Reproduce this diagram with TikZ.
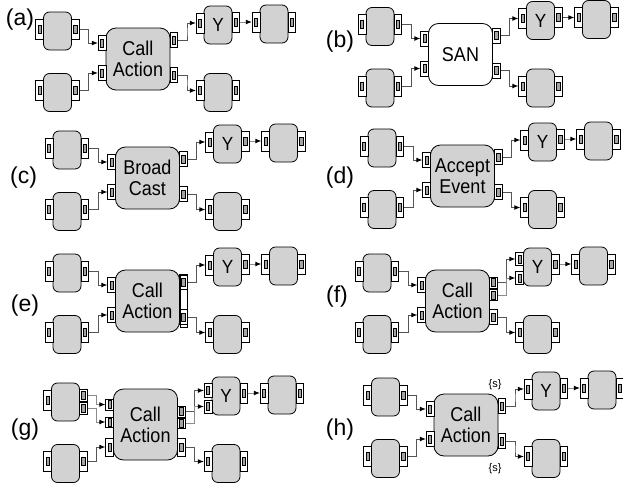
\documentclass[tikz,border=0pt]{standalone}
\usepackage{fontspec}
\setmainfont{Liberation Sans}
\newfontfamily\boxfont[FakeStretch=0.9]{Liberation Sans}
\usetikzlibrary{positioning, calc, arrows.meta}
\definecolor{boxgray}{RGB}{210,210,210}
\definecolor{portgray}{RGB}{165,165,165}
\definecolor{wiregray}{RGB}{85,85,85}
\definecolor{wirelight}{RGB}{140,140,140}

\tikzset{
  actbox/.style={draw, fill=boxgray, rounded corners=3pt, minimum width=14pt, minimum height=19pt,
    inner sep=0pt, font=\boxfont\fontsize{9.5}{9.5}\selectfont},
  bigbox/.style={actbox, rounded corners=5pt, minimum width=32pt, minimum height=31pt,
    align=center, font=\boxfont\fontsize{10}{10.5}\selectfont},
  portbox/.style={draw, fill=white, minimum width=3.8pt, minimum height=10pt, inner sep=0pt,
    path picture={\draw[fill=portgray] ([xshift=-0.8pt,yshift=-2pt]path picture bounding box.center)
      rectangle ([xshift=0.8pt,yshift=2pt]path picture bounding box.center);}},
  smallport/.style={portbox, minimum height=7.5pt},
  wire/.style={draw=wiregray, line width=0.45pt, -{Latex[length=3pt,width=2.4pt,color=black]}},
  elbow/.style={to path={-| ($(\tikztostart)!.5!(\tikztotarget)$) |- (\tikztotarget)}},
  panellabel/.style={font=\fontsize{11.5}{11.5}\selectfont}
}

\begin{document}
\begin{tikzpicture}[x=0.5pt, y=-0.5pt]
  \useasboundingbox (0,0) rectangle (623,488);

  % parts shared by all eight panels
  \foreach \p/\dx/\dy/\lx/\ly in {a/0/0/20/20, b/322.5/-4.5/340/42, c/9.5/119/23.5/178,
      d/324.5/117/340/178, e/9.5/242/25/306, f/319.5/242/337/297, g/8/371/25/430, h/328/366/340/430} {
    \node[panellabel] (lab-\p) at (\lx,\ly) {(\p)};
    \begin{scope}[shift={(\dx,\dy)}]
      \node[actbox] (in1-\p) at (57.5,31) {};
      \node[actbox] (in2-\p) at (57.5,92.5) {};
      \node[actbox] (Y-\p) at (218,25) {Y};
      \node[actbox] (far-\p) at (274,24) {};
      \node[actbox] (out2-\p) at (218,92.5) {};
    \end{scope}
    \node[portbox] (in1l-\p) at ([xshift=-1.75pt,yshift=1pt]in1-\p.west) {};
    \node[portbox] (in2l-\p) at ([xshift=-1.75pt,yshift=1pt]in2-\p.west) {};
    \node[portbox] (in2r-\p) at ([xshift=1.75pt,yshift=1pt]in2-\p.east) {};
    \node[portbox] (Yr-\p) at ([xshift=1.75pt,yshift=1.5pt]Y-\p.east) {};
    \node[portbox] (farl-\p) at ([xshift=-1.75pt,yshift=1pt]far-\p.west) {};
    \node[portbox] (farr-\p) at ([xshift=1.75pt,yshift=1pt]far-\p.east) {};
    \node[portbox] (out2l-\p) at ([xshift=-1.75pt,yshift=1pt]out2-\p.west) {};
    \node[portbox] (out2r-\p) at ([xshift=1.75pt,yshift=1pt]out2-\p.east) {};
    \draw[wire] (Yr-\p.east) to[elbow] (farl-\p.west);
  }

  % panels with one pin on each side
  \foreach \p/\dx/\dy/\txt/\cf in {a/0/0/{Call\\Action}/boxgray, b/322.5/-4.5/SAN/white,
      c/9.5/119/{Broad\\Cast}/boxgray, d/324.5/117/{Accept\\Event}/boxgray,
      e/9.5/242/{Call\\Action}/boxgray, h/328/366/{Call\\Action}/boxgray} {
    \begin{scope}[shift={(\dx,\dy)}]
      \node[bigbox, fill=\cf] (C-\p) at (138,59) {\txt};
    \end{scope}
    \node[smallport] (Cl1-\p) at ([xshift=-1.75pt,yshift=8pt]C-\p.west) {};
    \node[smallport] (Cl2-\p) at ([xshift=-1.75pt,yshift=-7pt]C-\p.west) {};
    \node[smallport] (Cr1-\p) at ([xshift=1.75pt,yshift=9.5pt]C-\p.east) {};
    \node[smallport] (Cr2-\p) at ([xshift=1.75pt,yshift=-8pt]C-\p.east) {};
    \node[portbox] (in1r-\p) at ([xshift=1.75pt,yshift=1pt]in1-\p.east) {};
    \node[portbox] (Yl-\p) at ([xshift=-1.75pt,yshift=1pt]Y-\p.west) {};
    \draw[wire] (in1r-\p.east) to[elbow] (Cl1-\p.west);
    \draw[wire] (in2r-\p.east) to[elbow] (Cl2-\p.west);
    \draw[wire] (Cr1-\p.east) to[elbow] (Yl-\p.west);
    \draw[wire] (Cr2-\p.east) to[elbow] (out2l-\p.west);
  }

  % (e) pin set
  \draw ([xshift=0.25pt,yshift=13pt]C-e.east) rectangle ([xshift=3.85pt,yshift=-13pt]C-e.east);

  % (f)
  \begin{scope}[shift={(319.5,242)}]
    \node[bigbox] (C-f) at (138,59) {Call\\Action};
  \end{scope}
  \node[smallport] (Cl1-f) at ([xshift=-1.75pt,yshift=8pt]C-f.west) {};
  \node[smallport] (Cl2-f) at ([xshift=-1.75pt,yshift=-7pt]C-f.west) {};
  \node[smallport, minimum height=5.5pt] (Cr1-f) at ([xshift=1.75pt,yshift=9.25pt]C-f.east) {};
  \node[smallport, minimum height=5.5pt] (Cr2-f) at ([xshift=1.75pt,yshift=3pt]C-f.east) {};
  \node[smallport] (Cr3-f) at ([xshift=1.75pt,yshift=-8pt]C-f.east) {};
  \node[portbox] (in1r-f) at ([xshift=1.75pt,yshift=1pt]in1-f.east) {};
  \node[portbox, minimum height=6.5pt] (Yl1-f) at ([xshift=-1.75pt,yshift=4pt]Y-f.west) {};
  \node[portbox, minimum height=6.5pt] (Yl2-f) at ([xshift=-1.75pt,yshift=-5.5pt]Y-f.west) {};
  \draw[wire] (in1r-f.east) to[elbow] (Cl1-f.west);
  \draw[wire] (in2r-f.east) to[elbow] (Cl2-f.west);
  \draw[wire] (Cr1-f.east) to[elbow] (Yl1-f.west);
  \draw[wire, draw=wirelight] (Cr2-f.east) to[elbow] (Yl2-f.west);
  \draw[wire] (Cr3-f.east) to[elbow] (out2l-f.west);

  % (g)
  \begin{scope}[shift={(8,371)}]
    \node[bigbox, minimum height=35.5pt] (C-g) at (137.5,53.5) {Call\\Action};
  \end{scope}
  \node[smallport, minimum height=5.5pt] (Cl1-g) at ([xshift=-1.75pt,yshift=10pt]C-g.west) {};
  \node[smallport, minimum height=5pt] (Cl2-g) at ([xshift=-1.75pt,yshift=1.25pt]C-g.west) {};
  \node[smallport, minimum height=9pt] (Cl3-g) at ([xshift=-1.75pt,yshift=-11.25pt]C-g.west) {};
  \node[smallport, minimum height=5.5pt] (Cr1-g) at ([xshift=1.75pt,yshift=6.5pt]C-g.east) {};
  \node[smallport, minimum height=5pt] (Cr2-g) at ([xshift=1.75pt,yshift=0.75pt]C-g.east) {};
  \node[smallport, minimum height=9pt] (Cr3-g) at ([xshift=1.75pt,yshift=-11.25pt]C-g.east) {};
  \node[portbox, minimum height=6pt] (in1r1-g) at ([xshift=1.75pt,yshift=3.25pt]in1-g.east) {};
  \node[portbox, minimum height=6pt] (in1r2-g) at ([xshift=1.75pt,yshift=-3pt]in1-g.east) {};
  \node[portbox, minimum height=7pt] (Yl1-g) at ([xshift=-1.75pt,yshift=2.75pt]Y-g.west) {};
  \node[portbox, minimum height=6.5pt] (Yl2-g) at ([xshift=-1.75pt,yshift=-5.25pt]Y-g.west) {};
  \draw[wire, draw=wirelight] (in1r1-g.east) to[elbow] (Cl1-g.west);
  \draw[wire, draw=wirelight] (in1r2-g.east) to[elbow] (Cl2-g.west);
  \draw[wire] (in2r-g.east) to[elbow] (Cl3-g.west);
  \draw[wire] (Cr1-g.east) to[elbow] (Yl1-g.west);
  \draw[wire, draw=wirelight] (Cr2-g.east) to[elbow] (Yl2-g.west);
  \draw[wire] (Cr3-g.east) to[elbow] (out2l-g.west);

  % (h) stereotypes
  \node[font=\fontsize{5.5}{6}\selectfont] (s1-h) at (495,385) {\{s\}};
  \node[font=\fontsize{5.5}{6}\selectfont] (s2-h) at (495,469) {\{s\}};
\end{tikzpicture}
\end{document}
